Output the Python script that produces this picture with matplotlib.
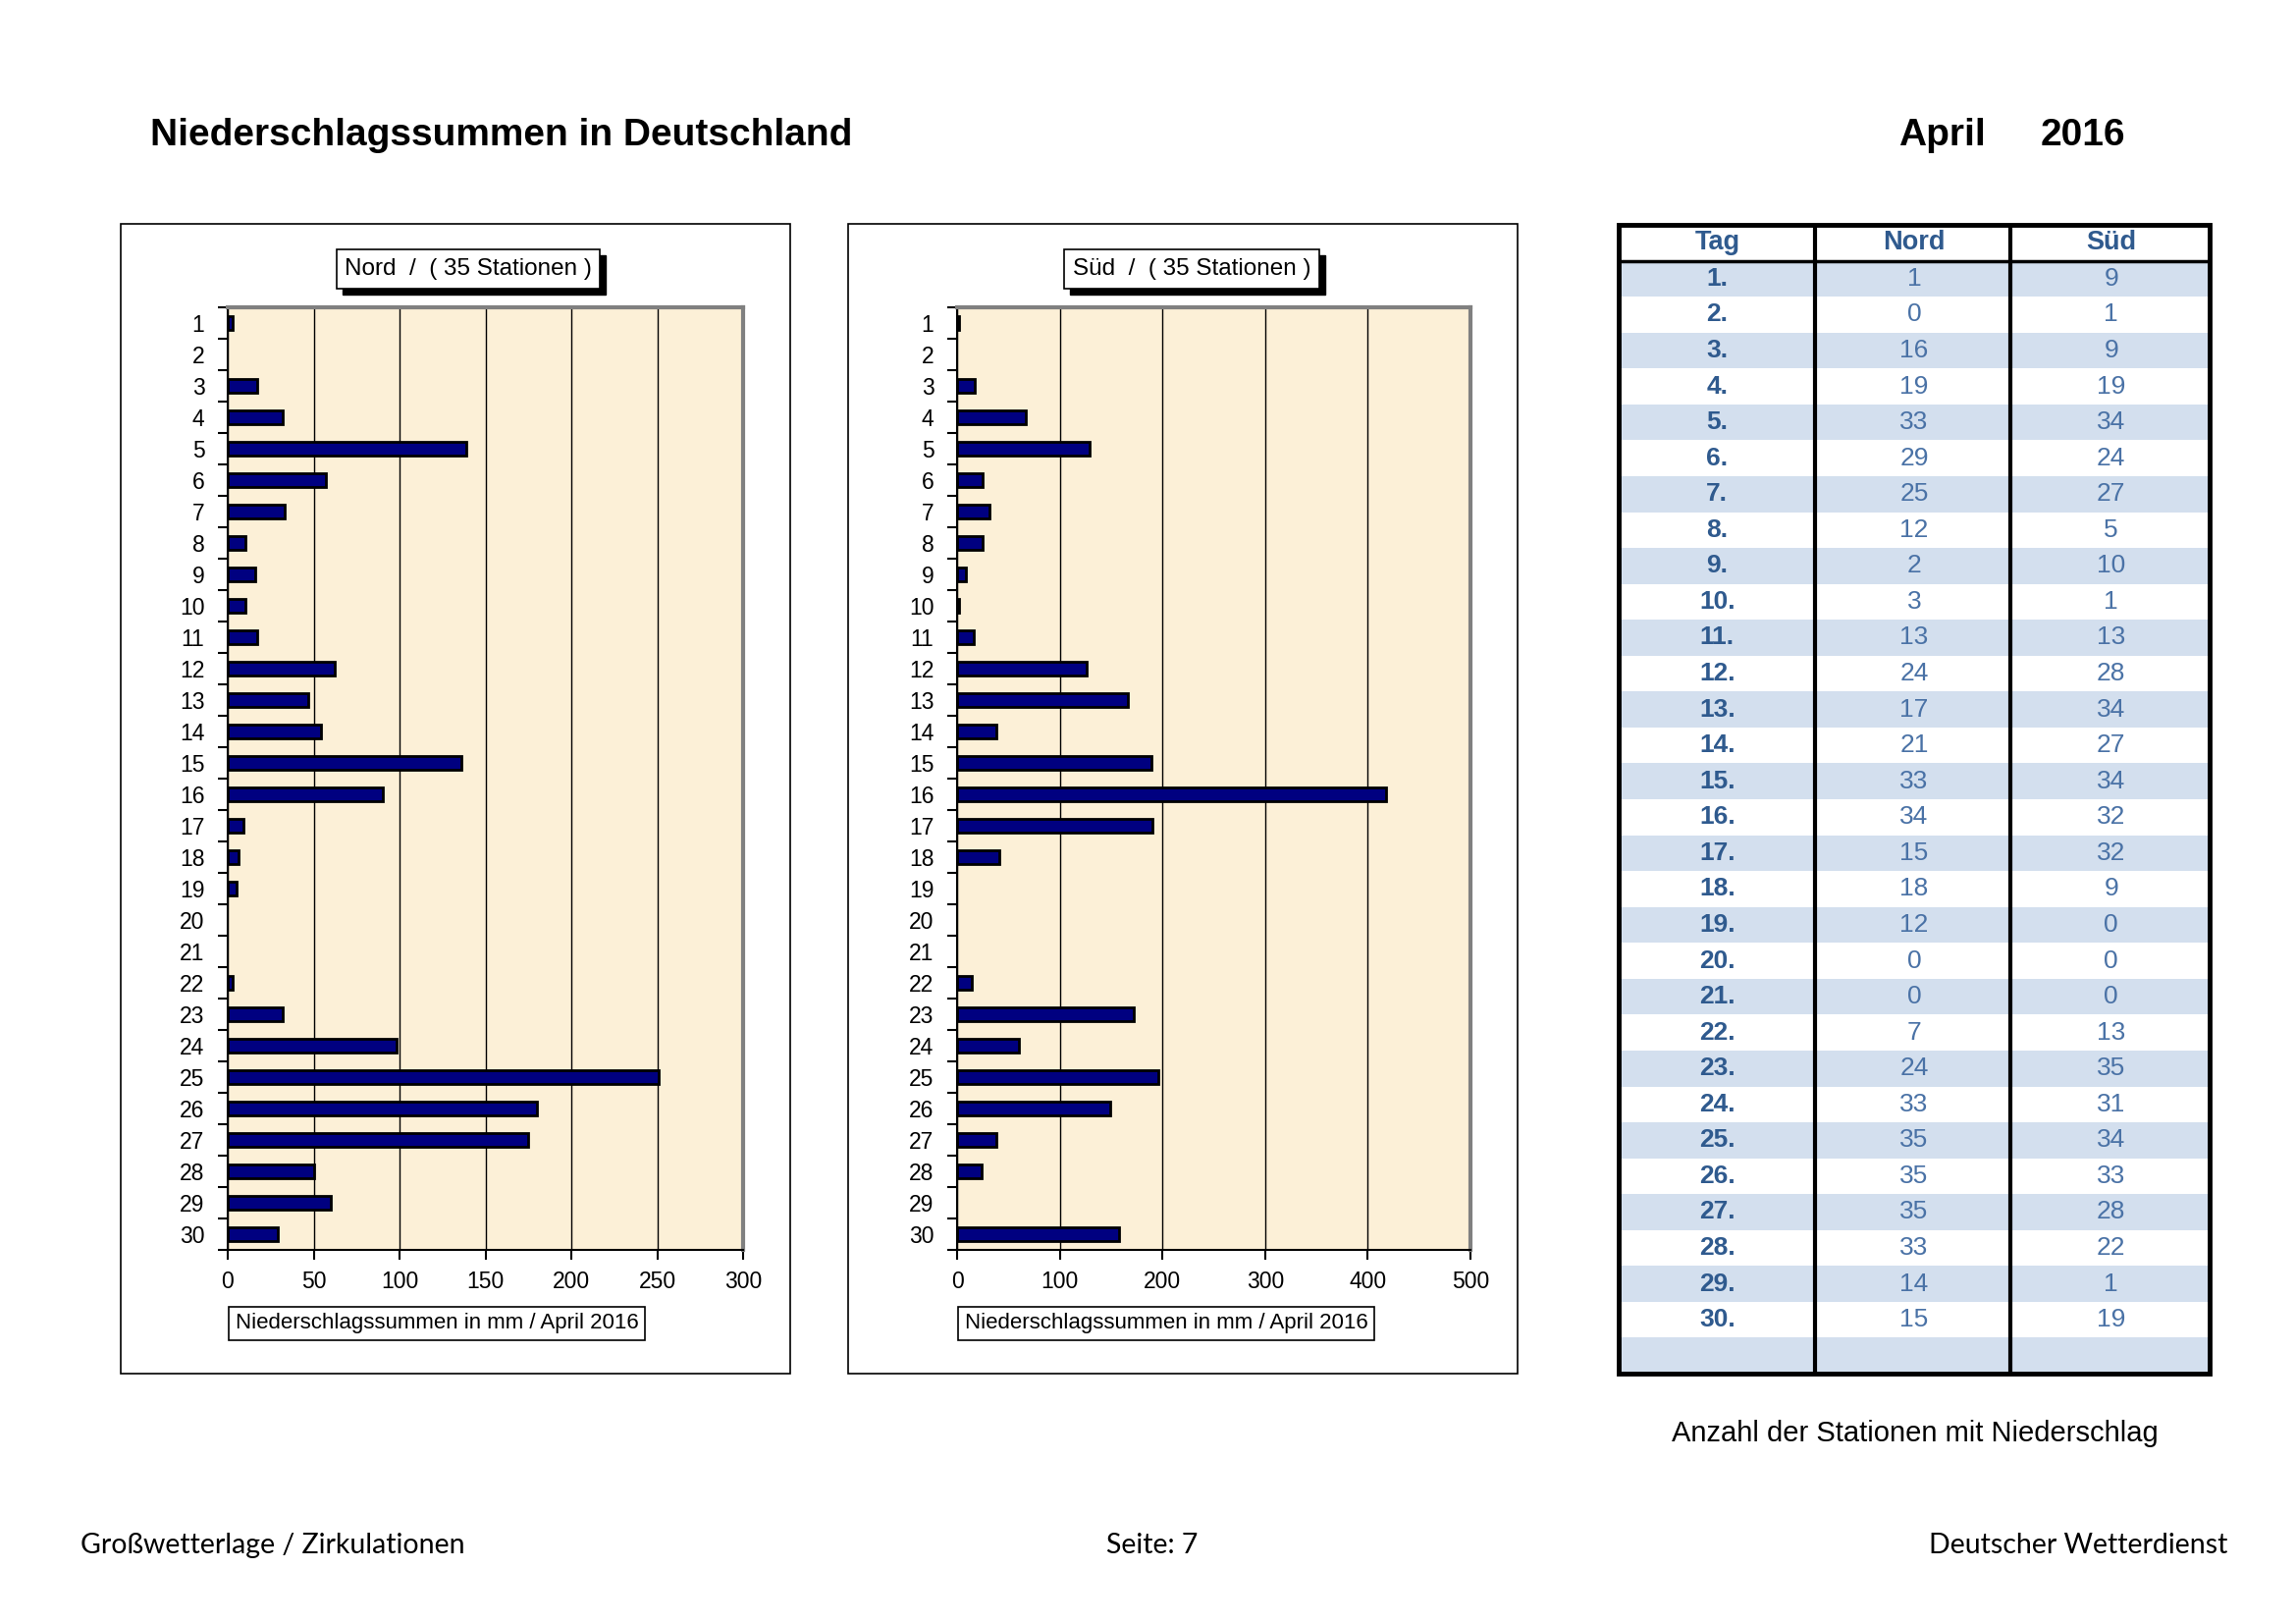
import matplotlib
matplotlib.use("Agg")
from matplotlib import pyplot as plt
from matplotlib.patches import Rectangle
import numpy as np

plt.rcParams['font.family'] = ['Liberation Sans', 'DejaVu Sans']

# Tage des Monats
days = list(range(1, 31))

# Niederschlagssummen in mm
nord_mm = [3, 0, 17, 32, 139, 57, 33, 10, 16, 10, 17, 62, 47, 54, 136, 90,
           9, 6, 5, 0, 0, 3, 32, 98, 251, 180, 175, 50, 60, 29]
sued_mm = [2, 0, 17, 67, 129, 25, 32, 25, 9, 2, 16, 126, 166, 38, 189, 418,
           190, 41, 0, 0, 0, 14, 172, 60, 196, 149, 38, 24, 0, 158]

# Anzahl der Stationen mit Niederschlag
nord_count = [1, 0, 16, 19, 33, 29, 25, 12, 2, 3, 13, 24, 17, 21, 33, 34,
              15, 18, 12, 0, 0, 7, 24, 33, 35, 35, 35, 33, 14, 15]
sued_count = [9, 1, 9, 19, 34, 24, 27, 5, 10, 1, 13, 28, 34, 27, 34, 32,
              32, 9, 0, 0, 0, 13, 35, 31, 34, 33, 28, 22, 1, 19]

W, H = 2339, 1653
fig = plt.figure(figsize=(W / 100, H / 100), dpi=100)
fig.patch.set_facecolor('white')


def fx(px):
    return px / W


def fy(py):
    return 1 - py / H


def frame(x0, y0, x1, y1, lw=1.2):
    fig.patches.append(Rectangle((fx(x0), fy(y1)), fx(x1) - fx(x0), fy(y0) - fy(y1),
                                 transform=fig.transFigure, fill=False,
                                 edgecolor='black', linewidth=lw))


shadow_texts = []


def box_title(x, y, s, shadow=True, size=17.5, pad=0.35):
    t = fig.text(fx(x), fy(y), s, ha='center', va='center', fontsize=size, zorder=3,
                 bbox=dict(boxstyle=f'square,pad={pad}', fc='white', ec='black', lw=1.2))
    if shadow:
        shadow_texts.append(t)


def bar_panel(left, right, values, xmax, step):
    ax = fig.add_axes([fx(left), fy(1273), fx(right) - fx(left), fy(313) - fy(1273)])
    ax.set_facecolor('#FCF0D7')
    # Tage ohne Niederschlag ohne Rand zeichnen
    lws = [2 if v > 0 else 0 for v in values]
    ax.barh(days, values, height=0.45, color='#000080', edgecolor='black',
            linewidth=lws, zorder=3)
    ax.set_xlim(0, xmax)
    ax.set_ylim(30.5, 0.5)
    ax.set_xticks(np.arange(0, xmax + 1, step))
    ax.set_yticks(days)
    ax.set_yticks(np.arange(0.5, 31, 1), minor=True)
    ax.tick_params(axis='y', which='major', length=0, labelsize=16.5, pad=17)
    ax.tick_params(axis='y', which='minor', length=7, width=1.5, direction='out')
    ax.tick_params(axis='x', length=7, width=1.5, labelsize=16.5, pad=8)
    ax.grid(axis='x', color='black', linewidth=1, zorder=1)
    ax.set_axisbelow(True)
    for side in ('top', 'right'):
        ax.spines[side].set_color('#808080')
        ax.spines[side].set_linewidth(3)
    for side in ('left', 'bottom'):
        ax.spines[side].set_color('black')
        ax.spines[side].set_linewidth(1.5)
    return ax


# linke und rechte Grafik
frame(123, 228, 805, 1399)
frame(864, 228, 1546, 1399)
bar_panel(232, 757, nord_mm, 300, 50)
bar_panel(975, 1498, sued_mm, 500, 100)

box_title(477, 274, 'Nord  /  ( 35 Stationen )')
box_title(1214, 274, 'Süd  /  ( 35 Stationen )')
box_title(445, 1348, 'Niederschlagssummen in mm / April 2016', shadow=False, size=16, pad=0.3)
box_title(1188, 1348, 'Niederschlagssummen in mm / April 2016', shadow=False, size=16, pad=0.3)

# Kopfzeile
fig.text(fx(153), fy(138), 'Niederschlagssummen in Deutschland', fontsize=28,
         fontweight='bold', va='center', ha='left')
fig.text(fx(1934), fy(138), 'April', fontsize=28, fontweight='bold', va='center', ha='left')
fig.text(fx(2079), fy(138), '2016', fontsize=28, fontweight='bold', va='center', ha='left')

# Tabelle
tab = fig.add_axes([fx(1649), fy(1399), fx(2251) - fx(1649), fy(229) - fy(1399)])
tab.set_xlim(0, 3)
tab.set_ylim(32, 0)
tab.axis('off')
col_x = [0, 0.995, 1.99, 3]
blue_fill = '#D3DFEE'
dark_blue = '#2F5A8E'
num_blue = '#4A72A6'
for r in range(32):
    if r % 2 == 1:
        tab.add_patch(Rectangle((0, r), 3, 1, facecolor=blue_fill, edgecolor='none', zorder=1))
for j, head in enumerate(['Tag', 'Nord', 'Süd']):
    tab.text(j + 0.5, 0.5, head, ha='center', va='center', fontsize=19.5,
             fontweight='bold', color=dark_blue)
for i, d in enumerate(days):
    y = i + 1.5
    tab.text(0.5, y, f'{d}.', ha='center', va='center', fontsize=19, fontweight='bold',
             color=dark_blue, zorder=3)
    tab.text(1.5, y, str(nord_count[i]), ha='center', va='center', fontsize=19,
             color=num_blue, zorder=3)
    tab.text(2.5, y, str(sued_count[i]), ha='center', va='center', fontsize=19,
             color=num_blue, zorder=3)
for xv in col_x[1:3]:
    tab.plot([xv, xv], [0, 32], color='black', lw=3, zorder=4)
tab.plot([0, 3], [1, 1], color='black', lw=2.5, zorder=4)
tab.add_patch(Rectangle((0, 0), 3, 32, fill=False, edgecolor='black', lw=3.5, zorder=5,
                        clip_on=False))

fig.text(fx(1951), fy(1460), 'Anzahl der Stationen mit Niederschlag', fontsize=21,
         ha='center', va='center')

# Fußzeile
foot = ['Lato', 'DejaVu Sans']
fig.text(fx(82), fy(1574), 'Großwetterlage / Zirkulationen', fontsize=20.5, family=foot,
         ha='left', va='center')
fig.text(fx(1174), fy(1574), 'Seite: 7', fontsize=20.5, family=foot, ha='center', va='center')
fig.text(fx(2269), fy(1574), 'Deutscher Wetterdienst', fontsize=20.5, family=foot,
         ha='right', va='center')

# Schatten hinter den Titelkästen
fig.canvas.draw()
renderer = fig.canvas.get_renderer()
for t in shadow_texts:
    bb = t.get_bbox_patch().get_window_extent(renderer)
    bb = bb.transformed(fig.transFigure.inverted())
    fig.patches.append(Rectangle((bb.x0 + fx(6), bb.y0 - 6 / H), bb.width, bb.height,
                                 transform=fig.transFigure, facecolor='black',
                                 edgecolor='black', zorder=1))

fig.savefig('out.png', dpi=100)
